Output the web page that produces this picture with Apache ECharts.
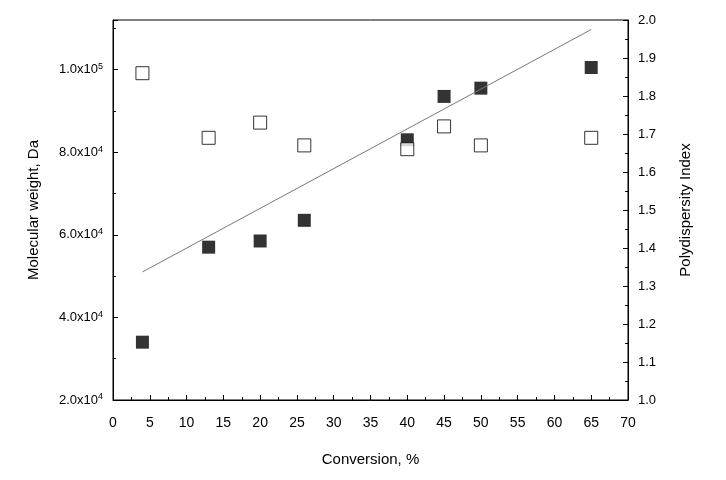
<!DOCTYPE html><html><head><meta charset="utf-8"><script src="https://cdn.jsdelivr.net/npm/echarts@6/dist/echarts.min.js"></script></head><body style="margin:0"><div id="c" style="width:726px;height:480px"></div><script>
const conversion=[4,13,20,26,40,45,50,65];
const mw=[34000,57000,58500,63500,83000,93500,95500,100500];
const pdi=[1.86,1.69,1.73,1.67,1.66,1.72,1.67,1.69];
const fitLine=[[4,51000],[65,109700]];
const c=echarts.init(document.getElementById('c'));
const ff='Liberation Sans';
c.setOption({animation:false,
grid:{left:113,right:98,top:20,bottom:80,show:true,borderColor:'#000',borderWidth:1},
xAxis:{type:'value',min:0,max:70,interval:5,name:'Conversion, %',nameLocation:'middle',nameGap:52,nameTextStyle:{fontFamily:ff,fontSize:15,color:'#000'},
 axisLine:{lineStyle:{color:'#000'}},axisTick:{inside:true,length:5},minorTick:{show:true,splitNumber:2,length:3},splitLine:{show:false},axisLabel:{margin:16,fontFamily:ff,fontSize:14,color:'#000'}},
yAxis:[{type:'value',min:20000,max:112000,interval:20000,name:'Molecular weight, Da',nameLocation:'middle',nameGap:72,nameTextStyle:{fontFamily:ff,fontSize:15,color:'#000'},
 axisLine:{show:true,lineStyle:{color:'#000'}},axisTick:{inside:true,length:5},minorTick:{show:true,splitNumber:2,length:3},splitLine:{show:false},
 axisLabel:{margin:10,fontFamily:ff,fontSize:13,color:'#000',formatter:v=>v%20000?'':((v/(v>=1e5?1e5:1e4)).toFixed(1)+'x10{s|'+(v>=1e5?5:4)+'}'),rich:{s:{fontSize:9,verticalAlign:'top',padding:[0,0,6,0],fontFamily:ff}}}},
{type:'value',min:1.0,max:2.0,interval:0.1,name:'Polydispersity Index',nameLocation:'middle',nameGap:50,nameRotate:90,nameTextStyle:{fontFamily:ff,fontSize:15,color:'#000'},
 axisLine:{show:true,lineStyle:{color:'#000'}},axisTick:{inside:true,length:5},minorTick:{show:true,splitNumber:2,length:3},splitLine:{show:false},axisLabel:{margin:10,fontFamily:ff,fontSize:13,color:'#000',formatter:v=>v.toFixed(1)}}],
series:[
{type:'line',data:fitLine,symbol:'none',lineStyle:{color:'#777',width:1}},
{type:'scatter',data:conversion.map((x,i)=>[x,mw[i]]),symbol:'rect',symbolSize:13,itemStyle:{color:'#000'}},
{type:'scatter',yAxisIndex:1,data:conversion.map((x,i)=>[x,pdi[i]]),symbol:'rect',symbolSize:13,itemStyle:{color:'#fff',borderColor:'#000',borderWidth:1}}]});
</script></body></html>
